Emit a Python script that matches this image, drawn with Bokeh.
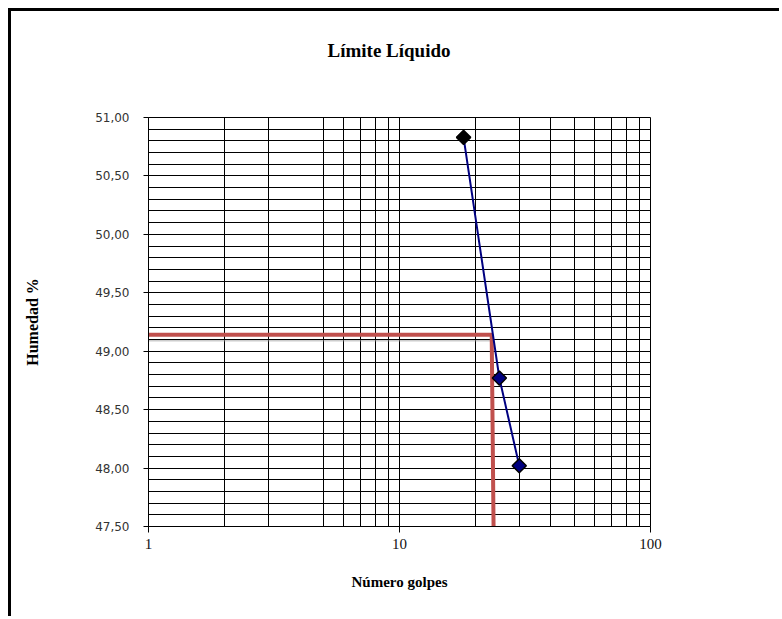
from bokeh.plotting import figure
from bokeh.models import Range1d, FixedTicker, CustomJSTickFormatter, ColumnDataSource, Title
from bokeh.embed import file_html
from bokeh.resources import INLINE
import numpy as np

# ---- data ----
golpes = [18, 25, 30]
humedad = [50.83, 48.77, 48.02]
ll_x = [1, 23.3, 23.7]
ll_y = [49.14, 49.14, 47.5]
shadow_x = [1, 23.3]
shadow_y = [49.09, 49.09]
x_major = [1, 10, 100]
x_grid = [1, 2, 3, 5, 6, 7, 8, 9, 10, 20, 30, 40, 50, 60, 70, 80, 90, 100]
y_major = [47.5, 48.0, 48.5, 49.0, 49.5, 50.0, 50.5, 51.0]
title_text = "Límite Líquido"

serif = "Liberation Serif"

p = figure(width=771, height=608, x_axis_type="log", title=None,
           x_range=Range1d(1, 100), y_range=Range1d(47.5, 51.0),
           output_backend="svg", toolbar_location=None,
           min_border_left=137, min_border_right=132,
           min_border_top=106, min_border_bottom=93)
p.margin = (8, 0, 0, 8)
p.styles = {"border-left": "3px solid black", "border-top": "3px solid black"}

# title; two trailing blank lines lift it well above the plot frame
p.add_layout(Title(text=title_text + "\n\n", text_font=serif, text_font_size="19px",
                   text_font_style="bold", text_color="black",
                   align="left", offset=179, standoff=30), "above")

p.outline_line_color = "black"
p.background_fill_color = "white"

# grids
p.xgrid.ticker = FixedTicker(ticks=x_grid)
p.xgrid.grid_line_color = "#000000"
p.xgrid.grid_line_width = 1
p.ygrid.ticker = FixedTicker(ticks=[round(47.5 + 0.1 * i, 2) for i in range(36)])
p.ygrid.grid_line_color = "#000000"
p.ygrid.grid_line_width = 1

# axes
xa = p.xaxis[0]
xa.ticker = FixedTicker(ticks=x_major, minor_ticks=[])
xa.formatter = CustomJSTickFormatter(code="return String(Math.round(tick));")
xa.major_label_text_font = serif
xa.major_label_text_font_size = "15px"
xa.major_label_text_color = "#111111"
xa.major_tick_in = 0
xa.major_tick_out = 6
xa.minor_tick_out = 0
xa.minor_tick_in = 0
xa.major_label_standoff = 6
xa.axis_line_color = "black"
xa.major_tick_line_color = "black"
xa.axis_label = "Número golpes"
xa.axis_label_text_font = serif
xa.axis_label_text_font_style = "bold"
xa.axis_label_text_font_size = "15px"
xa.axis_label_text_color = "black"
xa.axis_label_standoff = 22

ya = p.yaxis[0]
ya.ticker = FixedTicker(ticks=y_major, minor_ticks=[])
ya.formatter = CustomJSTickFormatter(code="return tick.toFixed(2).replace('.', ',');")
ya.major_label_text_font = "DejaVu Sans"
ya.major_label_text_font_size = "12px"
ya.major_label_text_color = "#333333"
ya.major_tick_in = 0
ya.major_tick_out = 5
ya.minor_tick_out = 0
ya.minor_tick_in = 0
ya.major_label_standoff = 14
ya.axis_line_color = "black"
ya.major_tick_line_color = "black"
ya.axis_label = "Humedad %"
ya.axis_label_text_font = serif
ya.axis_label_text_font_style = "bold"
ya.axis_label_text_font_size = "16px"
ya.axis_label_text_color = "black"
ya.axis_label_standoff = 51

# liquid limit construction line
p.line(shadow_x, shadow_y, line_color="#999999", line_width=1.5, line_dash="1 1")
p.line(ll_x, ll_y, line_color="#C0504D", line_width=4)

# flow curve
p.line(golpes, humedad, line_color="#000080", line_width=2)
src = ColumnDataSource(dict(x=golpes, y=humedad,
                            fill=["black", "#000080", "#000080"]))
p.scatter("x", "y", source=src, marker="square", size=10, angle=np.pi / 4,
          fill_color="fill", line_color="black", line_width=1.5)

open("out.html", "w").write(file_html(p, INLINE))
